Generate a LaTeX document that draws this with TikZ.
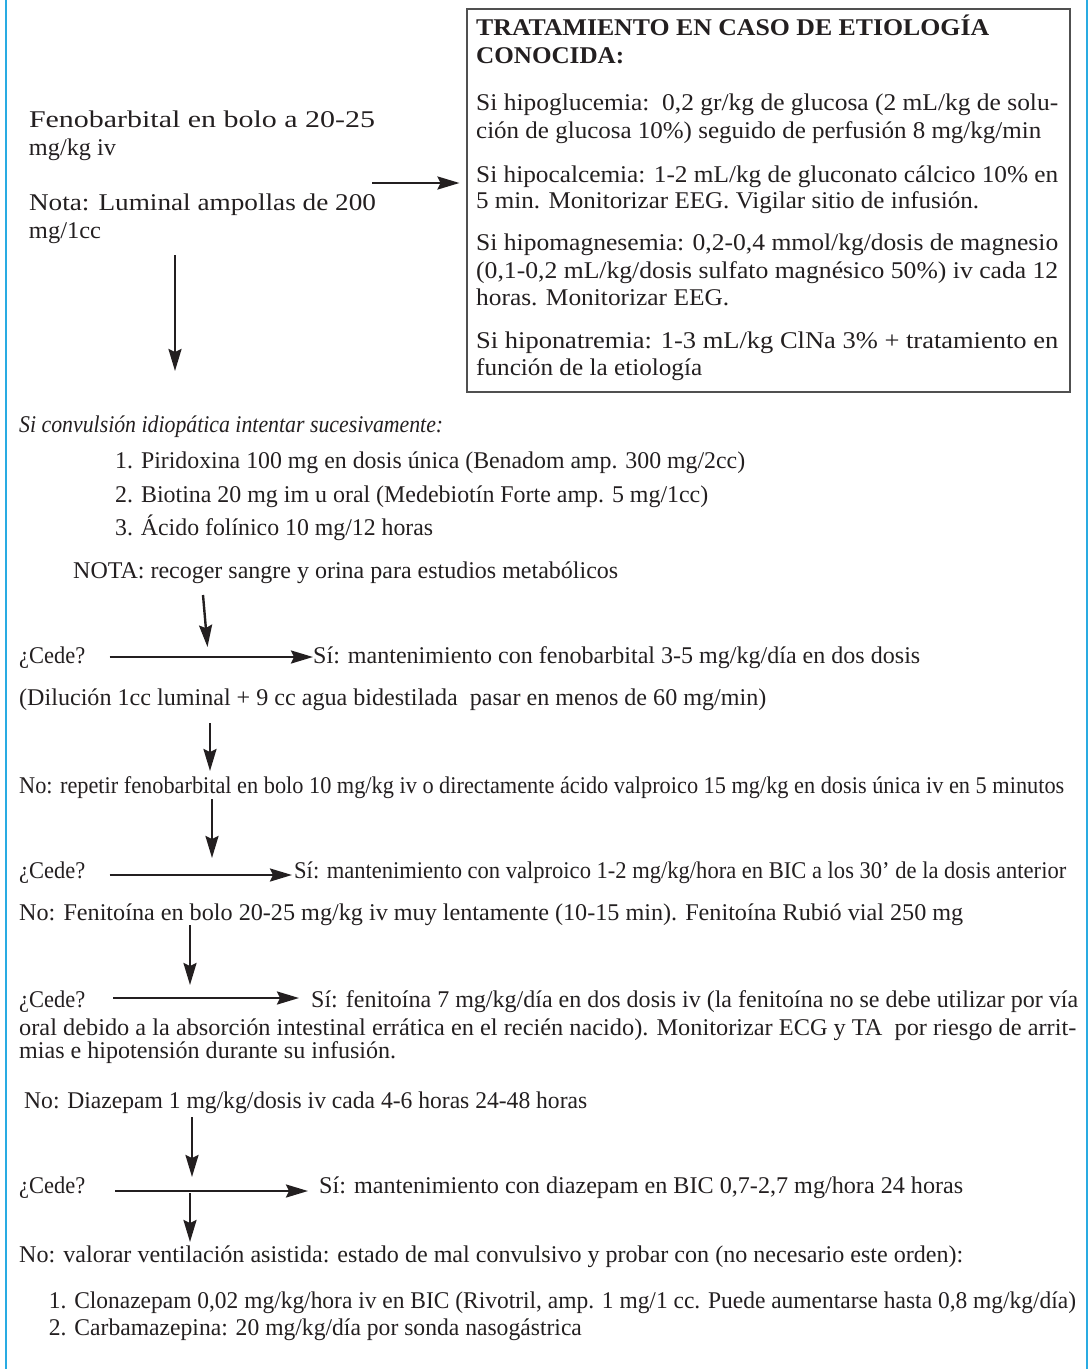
\documentclass[tikz,border=0pt]{standalone}
\usepackage{fontspec}
\setmainfont{Liberation Serif}
\usepackage{graphicx}
\usetikzlibrary{arrows.meta}
\definecolor{txt}{HTML}{231F20}
\definecolor{rule}{HTML}{29ABE2}
\definecolor{boxline}{HTML}{505050}
\newcommand{\fitw}[2]{\resizebox{#1pt}{\height}{#2}}
\begin{document}
\begin{tikzpicture}[x=1pt,y=-1pt,
  font=\fontsize{24}{28}\selectfont,
  ln/.style={anchor=base west,inner sep=0pt,text=txt},
  arr/.style={draw=txt,line width=2.4pt,-{Stealth[length=22pt,width=13pt,inset=3pt]}},
  sidebar/.style={draw=rule,line width=2pt},
  tbox/.style={draw=boxline,line width=1.6pt,anchor=north west,inner sep=0pt}]
\useasboundingbox (0,0) rectangle (1091,1369);
% side rules
\coordinate (lt) at (6,0); \coordinate (lb) at (6,1369);
\coordinate (rt) at (1087,0); \coordinate (rb) at (1087,1369);
\draw[sidebar] (lt) -- (lb);
\draw[sidebar] (rt) -- (rb);
% left top text
\node[ln] (t1) at (28.8,127) {\fitw{346}{Fenobarbital en bolo a 20-25}};
\node[ln] (t2) at (28.8,155) {\fitw{87}{mg/kg iv}};
\node[ln] (t3) at (28.8,210) {\fitw{347}{Nota: Luminal ampollas de 200}};
\node[ln] (t4) at (28.8,238) {\fitw{72}{mg/1cc}};
% box
\node[tbox,minimum width=603pt,minimum height=383pt] (box) at (466,8) {};
\node[ln] (b1) at (476,35) {\fitw{513}{\bfseries TRATAMIENTO EN CASO DE ETIOLOGÍA}};
\node[ln] (b2) at (476,63) {\fitw{148}{\bfseries CONOCIDA:}};
\node[ln] (b3) at (476,110) {\fitw{582}{Si hipoglucemia:\ \ 0,2 gr/kg de glucosa (2 mL/kg de solu-}};
\node[ln] (b4) at (476,138) {\fitw{565}{ción de glucosa 10\%) seguido de perfusión 8 mg/kg/min}};
\node[ln] (b5) at (476,182) {\fitw{582}{Si hipocalcemia: 1-2 mL/kg de gluconato cálcico 10\% en}};
\node[ln] (b6) at (476,208) {\fitw{503}{5 min. Monitorizar EEG. Vigilar sitio de infusión.}};
\node[ln] (b7) at (476,250) {\fitw{582}{Si hipomagnesemia: 0,2-0,4 mmol/kg/dosis de magnesio}};
\node[ln] (b8) at (476,278) {\fitw{582}{(0,1-0,2 mL/kg/dosis sulfato magnésico 50\%) iv cada 12}};
\node[ln] (b9) at (476,305) {\fitw{253}{horas. Monitorizar EEG.}};
\node[ln] (b10) at (476,348) {\fitw{582}{Si hiponatremia: 1-3 mL/kg ClNa 3\% + tratamiento en}};
\node[ln] (b11) at (476,375) {\fitw{226}{función de la etiología}};
% idiopathic
\node[ln] (c0) at (19,432) {\fitw{424}{\itshape Si convulsión idiopática intentar sucesivamente:}};
\node[ln] (c1) at (115,468) {\fitw{630}{1. Piridoxina 100 mg en dosis única (Benadom amp. 300 mg/2cc)}};
\node[ln] (c2) at (115,502) {\fitw{593}{2. Biotina 20 mg im u oral (Medebiotín Forte amp. 5 mg/1cc)}};
\node[ln] (c3) at (115,535) {\fitw{318}{3. Ácido folínico 10 mg/12 horas}};
\node[ln] (c4) at (73,578) {\fitw{545}{NOTA: recoger sangre y orina para estudios metabólicos}};
% first cede
\node[ln] (d1) at (19,663) {\fitw{66}{¿Cede?}};
\node[ln] (d2) at (313,663) {\fitw{607}{Sí: mantenimiento con fenobarbital 3-5 mg/kg/día en dos dosis}};
\node[ln] (d3) at (19,705) {\fitw{747}{(Dilución 1cc luminal + 9 cc agua bidestilada\ \ pasar en menos de 60 mg/min)}};
% valproico
\node[ln] (e1) at (19,793) {\fitw{1045}{No: repetir fenobarbital en bolo 10 mg/kg iv o directamente ácido valproico 15 mg/kg en dosis única iv en 5 minutos}};
\node[ln] (e2) at (19,878) {\fitw{66}{¿Cede?}};
\node[ln] (e3) at (294,878) {\fitw{772}{Sí: mantenimiento con valproico 1-2 mg/kg/hora en BIC a los 30’ de la dosis anterior}};
% fenitoina
\node[ln] (f1) at (19,920) {\fitw{944}{No: Fenitoína en bolo 20-25 mg/kg iv muy lentamente (10-15 min). Fenitoína Rubió vial 250 mg}};
\node[ln] (f2) at (19,1007) {\fitw{66}{¿Cede?}};
\node[ln] (f3) at (311,1007) {\fitw{767}{Sí: fenitoína 7 mg/kg/día en dos dosis iv (la fenitoína no se debe utilizar por vía}};
\node[ln] (f4) at (19,1035) {\fitw{1057}{oral debido a la absorción intestinal errática en el recién nacido). Monitorizar ECG y TA\ \ por riesgo de arrit-}};
\node[ln] (f5) at (19,1058) {\fitw{377}{mias e hipotensión durante su infusión.}};
% diazepam
\node[ln] (g1) at (24,1108) {\fitw{563}{No: Diazepam 1 mg/kg/dosis iv cada 4-6 horas 24-48 horas}};
\node[ln] (g2) at (19,1193) {\fitw{66}{¿Cede?}};
\node[ln] (g3) at (319,1193) {\fitw{644}{Sí: mantenimiento con diazepam en BIC 0,7-2,7 mg/hora 24 horas}};
% final
\node[ln] (h1) at (19,1262) {\fitw{944}{No: valorar ventilación asistida: estado de mal convulsivo y probar con (no necesario este orden):}};
\node[ln] (h2) at (48.7,1308) {\fitw{1027}{1. Clonazepam 0,02 mg/kg/hora iv en BIC (Rivotril, amp. 1 mg/1 cc. Puede aumentarse hasta 0,8 mg/kg/día)}};
\node[ln] (h3) at (48.7,1335) {\fitw{533}{2. Carbamazepina: 20 mg/kg/día por sonda nasogástrica}};
% arrow coordinates
\coordinate (a1s) at (372,183);   \coordinate (a1e) at (459.5,183);
\coordinate (a2s) at (175,255);   \coordinate (a2e) at (175,371);
\coordinate (a3s) at (203,595);   \coordinate (a3e) at (207.5,647);
\coordinate (a4s) at (109.5,657); \coordinate (a4e) at (313,657);
\coordinate (a5s) at (210,723);   \coordinate (a5e) at (210,771);
\coordinate (a6s) at (212,799);   \coordinate (a6e) at (212,858);
\coordinate (a7s) at (109.5,875); \coordinate (a7e) at (292,875);
\coordinate (a8s) at (190,925);   \coordinate (a8e) at (190,985);
\coordinate (a9s) at (113,998);   \coordinate (a9e) at (299,998);
\coordinate (a10s) at (192,1117); \coordinate (a10e) at (192,1177);
\coordinate (a11s) at (115,1191); \coordinate (a11e) at (308,1191);
\coordinate (a12s) at (190,1193); \coordinate (a12e) at (190,1242);
\foreach \i in {1,...,12} {\draw[arr] (a\i s) -- (a\i e);}
\end{tikzpicture}
\end{document}
